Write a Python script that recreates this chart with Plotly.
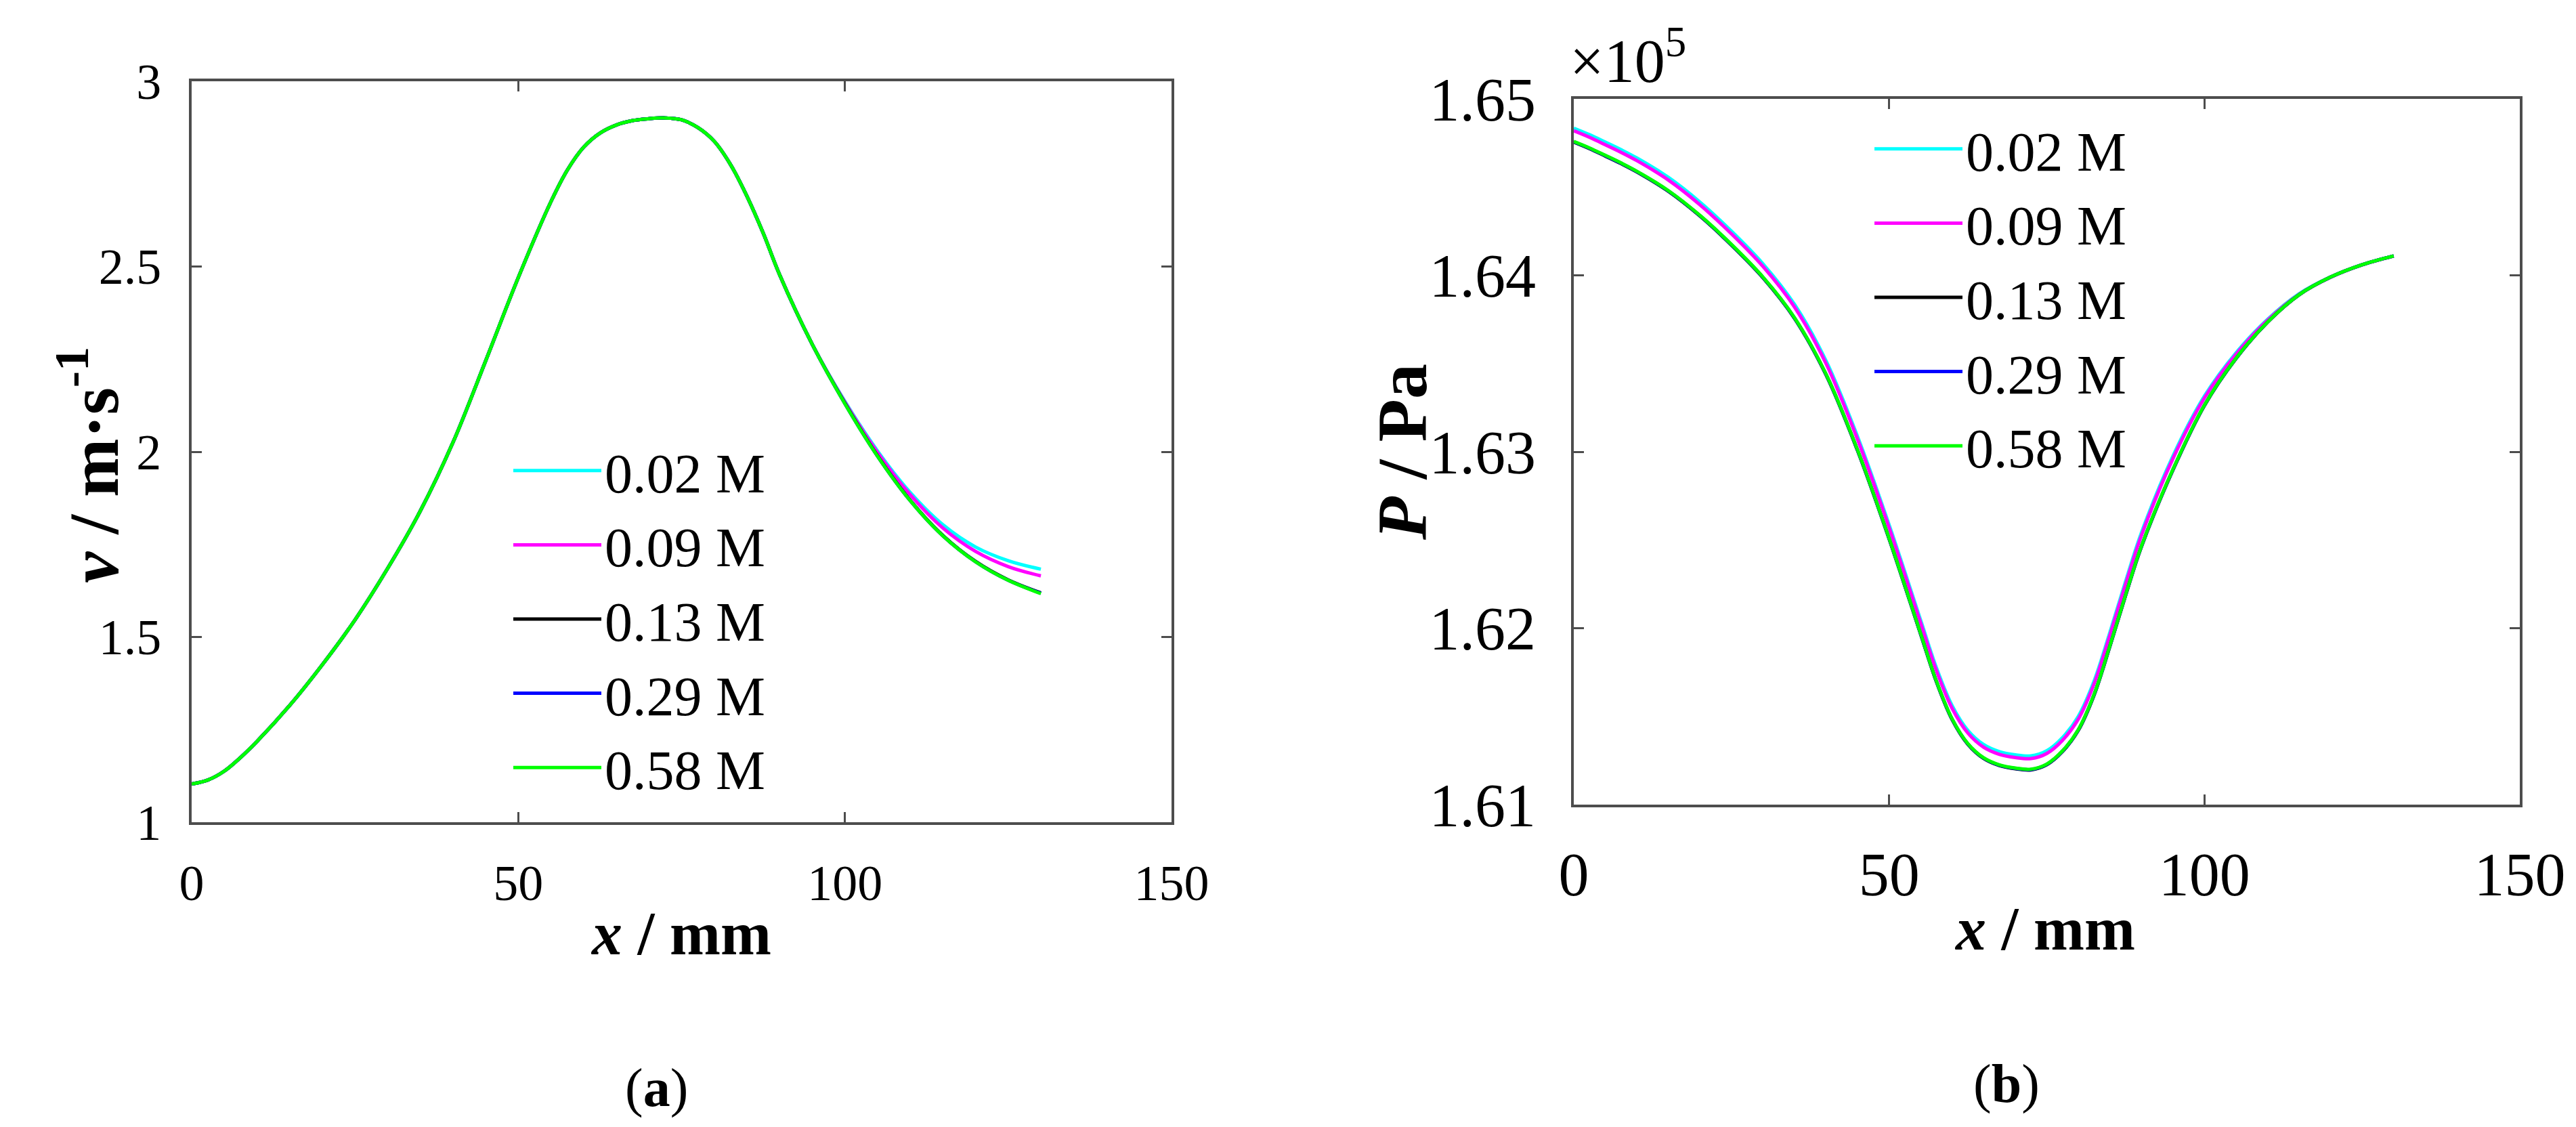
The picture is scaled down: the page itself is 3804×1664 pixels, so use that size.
import plotly.graph_objects as go

# x positions along the channel (mm), shared by every curve
x_mm = [0, 2.5, 5, 7.5, 10, 15, 20, 25, 30, 35, 40, 45, 50, 55, 57.5, 60, 62.5, 65,
        67.5, 70, 72.5, 75, 77.5, 80, 82.5, 85, 87.5, 90, 95, 100, 105, 110, 115,
        120, 125, 130]

labels = ['0.02 M', '0.09 M', '0.13 M', '0.29 M', '0.58 M']
colors = ['#00FFFF', '#FF00FF', '#000000', '#0000FF', '#00FF00']

# (a) velocity, m/s
v_002 = [1.103, 1.114, 1.138, 1.175, 1.218, 1.315, 1.425, 1.546, 1.685, 1.840, 2.025,
         2.245, 2.470, 2.675, 2.760, 2.822, 2.860, 2.882, 2.894, 2.899, 2.901, 2.896,
         2.875, 2.838, 2.775, 2.690, 2.590, 2.478, 2.290, 2.136, 2.002, 1.890, 1.803,
         1.743, 1.706, 1.683]
v_009 = [1.103, 1.114, 1.138, 1.175, 1.218, 1.315, 1.425, 1.546, 1.685, 1.840, 2.025,
         2.245, 2.470, 2.675, 2.760, 2.822, 2.860, 2.882, 2.894, 2.899, 2.901, 2.896,
         2.875, 2.838, 2.775, 2.690, 2.590, 2.478, 2.290, 2.134, 1.998, 1.884, 1.794,
         1.731, 1.690, 1.665]
v_013 = [1.103, 1.114, 1.138, 1.175, 1.218, 1.315, 1.425, 1.546, 1.685, 1.840, 2.025,
         2.245, 2.470, 2.675, 2.760, 2.822, 2.860, 2.882, 2.894, 2.899, 2.901, 2.896,
         2.875, 2.838, 2.775, 2.690, 2.590, 2.478, 2.290, 2.131, 1.989, 1.869, 1.774,
         1.704, 1.654, 1.619]
v_029 = [1.103, 1.114, 1.138, 1.175, 1.218, 1.315, 1.425, 1.546, 1.685, 1.840, 2.025,
         2.245, 2.470, 2.675, 2.760, 2.822, 2.860, 2.882, 2.894, 2.899, 2.901, 2.896,
         2.875, 2.838, 2.775, 2.690, 2.590, 2.478, 2.290, 2.130, 1.988, 1.868, 1.773,
         1.703, 1.653, 1.618]
v_058 = [1.103, 1.114, 1.138, 1.175, 1.218, 1.315, 1.425, 1.546, 1.685, 1.840, 2.025,
         2.245, 2.470, 2.675, 2.760, 2.822, 2.860, 2.882, 2.894, 2.899, 2.901, 2.896,
         2.875, 2.838, 2.775, 2.690, 2.590, 2.478, 2.290, 2.130, 1.988, 1.868, 1.773,
         1.703, 1.653, 1.617]

# (b) pressure, x10^5 Pa
p_002 = [1.64834, 1.64797, 1.64755, 1.64712, 1.64665, 1.64555, 1.64415, 1.64250,
         1.64065, 1.63835, 1.63515, 1.63085, 1.62585, 1.62045, 1.61775, 1.61560,
         1.61420, 1.61340, 1.61300, 1.61282, 1.61276, 1.61305, 1.61380, 1.61500,
         1.61700, 1.61975, 1.62265, 1.62540, 1.62975, 1.63315, 1.63560, 1.63750,
         1.63895, 1.63990, 1.64060, 1.64110]
p_009 = [1.64819, 1.64782, 1.64740, 1.64697, 1.64650, 1.64540, 1.64400, 1.64235,
         1.64050, 1.63820, 1.63500, 1.63070, 1.62570, 1.62030, 1.61760, 1.61545,
         1.61405, 1.61325, 1.61285, 1.61267, 1.61261, 1.61290, 1.61365, 1.61485,
         1.61685, 1.61960, 1.62250, 1.62525, 1.62961, 1.63305, 1.63552, 1.63745,
         1.63892, 1.63989, 1.64059, 1.64109]
p_013 = [1.64755, 1.64718, 1.64676, 1.64633, 1.64586, 1.64476, 1.64336, 1.64171,
         1.63986, 1.63756, 1.63436, 1.63006, 1.62506, 1.61966, 1.61696, 1.61481,
         1.61341, 1.61261, 1.61221, 1.61203, 1.61197, 1.61226, 1.61301, 1.61421,
         1.61621, 1.61896, 1.62186, 1.62461, 1.62896, 1.63262, 1.63528, 1.63734,
         1.63889, 1.63990, 1.64060, 1.64110]
p_029 = [1.64757, 1.64720, 1.64678, 1.64635, 1.64588, 1.64478, 1.64338, 1.64173,
         1.63988, 1.63758, 1.63438, 1.63008, 1.62508, 1.61968, 1.61698, 1.61483,
         1.61343, 1.61263, 1.61223, 1.61205, 1.61199, 1.61228, 1.61303, 1.61423,
         1.61623, 1.61898, 1.62188, 1.62463, 1.62898, 1.63264, 1.63529, 1.63735,
         1.63890, 1.63990, 1.64060, 1.64110]
p_058 = [1.64759, 1.64722, 1.64680, 1.64637, 1.64590, 1.64480, 1.64340, 1.64175,
         1.63990, 1.63760, 1.63440, 1.63010, 1.62510, 1.61970, 1.61700, 1.61485,
         1.61345, 1.61265, 1.61225, 1.61207, 1.61201, 1.61230, 1.61305, 1.61425,
         1.61625, 1.61900, 1.62190, 1.62465, 1.62900, 1.63265, 1.63530, 1.63735,
         1.63890, 1.63990, 1.64060, 1.64110]

v_series = [v_002, v_009, v_013, v_029, v_058]
p_series = [p_002, p_009, p_013, p_029, p_058]

W, H = 3804, 1664
FONT = 'Liberation Serif'
AX = '#4d4d4d'


def px(xp):
    return xp / W


def py(yp):
    return 1 - yp / H


fig = go.Figure()

for name, col, v in zip(labels, colors, v_series):
    fig.add_trace(go.Scatter(x=x_mm, y=v, name=name, mode='lines',
                             line=dict(color=col, width=5, shape='spline', smoothing=1.0),
                             xaxis='x', yaxis='y', legend='legend'))

for name, col, p in zip(labels, colors, p_series):
    fig.add_trace(go.Scatter(x=x_mm, y=p, name=name, mode='lines',
                             line=dict(color=col, width=5, shape='spline', smoothing=1.0),
                             xaxis='x2', yaxis='y2', legend='legend2'))

common = dict(showline=True, linecolor=AX, linewidth=4, mirror='allticks',
              ticks='inside', ticklen=15, tickwidth=3, tickcolor=AX,
              showgrid=False, zeroline=False, automargin=False)

fig.update_layout(
    template='none',
    width=W, height=H,
    margin=dict(l=0, r=0, t=0, b=0, pad=0),
    paper_bgcolor='white', plot_bgcolor='white',
    font=dict(family=FONT, color='black'),
    xaxis=dict(domain=[px(275), px(1722)], range=[0, 150], dtick=50, anchor='y',
               tickfont=dict(size=74), ticklabelstandoff=22, **common),
    yaxis=dict(domain=[py(1206), py(112)], range=[1, 3], dtick=0.5, anchor='x',
               tickfont=dict(size=74), ticklabelstandoff=26, **common),
    xaxis2=dict(domain=[px(2316), px(3713)], range=[0, 150], dtick=50, anchor='y2',
                tickfont=dict(size=90), ticklabelstandoff=22, **common),
    yaxis2=dict(domain=[py(1180), py(138)], range=[1.61, 1.65], dtick=0.01,
                tickformat='.2f', anchor='x2',
                tickfont=dict(size=90), ticklabelstandoff=34, **common),
    legend=dict(x=px(745), y=py(627), xanchor='left', yanchor='top',
                bgcolor='rgba(0,0,0,0)', borderwidth=0, itemwidth=130,
                tracegroupgap=0, font=dict(size=82, family=FONT)),
    legend2=dict(x=px(2755), y=py(152), xanchor='left', yanchor='top',
                 bgcolor='rgba(0,0,0,0)', borderwidth=0, itemwidth=130,
                 tracegroupgap=0, font=dict(size=82, family=FONT)),
    showlegend=True,
)

annots = [
    dict(x=px(998), y=py(1370), text='<b><i>x</i> / mm</b>', size=90),
    dict(x=px(3011), y=py(1363), text='<b><i>x</i> / mm</b>', size=90),
    dict(x=px(122), y=py(678), text='<b><i>v</i> / m·s<sup>-1</sup></b>', size=104, angle=-90),
    dict(x=px(2062), y=py(660), text='<b><i>P</i> / Pa</b>', size=104, angle=-90),
    dict(x=px(962), y=py(1598), text='(<b>a</b>)', size=80),
    dict(x=px(2955), y=py(1592), text='(<b>b</b>)', size=80),
]
for a in annots:
    fig.add_annotation(x=a['x'], y=a['y'], xref='paper', yref='paper',
                       text=a['text'], showarrow=False, xanchor='center', yanchor='middle',
                       textangle=a.get('angle', 0), font=dict(size=a['size'], family=FONT))

fig.add_annotation(x=px(2308), y=py(134), xref='paper', yref='paper',
                   text='×10<sup>5</sup>', showarrow=False, xanchor='left', yanchor='bottom',
                   font=dict(size=90, family=FONT))

fig.write_html('out.html')
